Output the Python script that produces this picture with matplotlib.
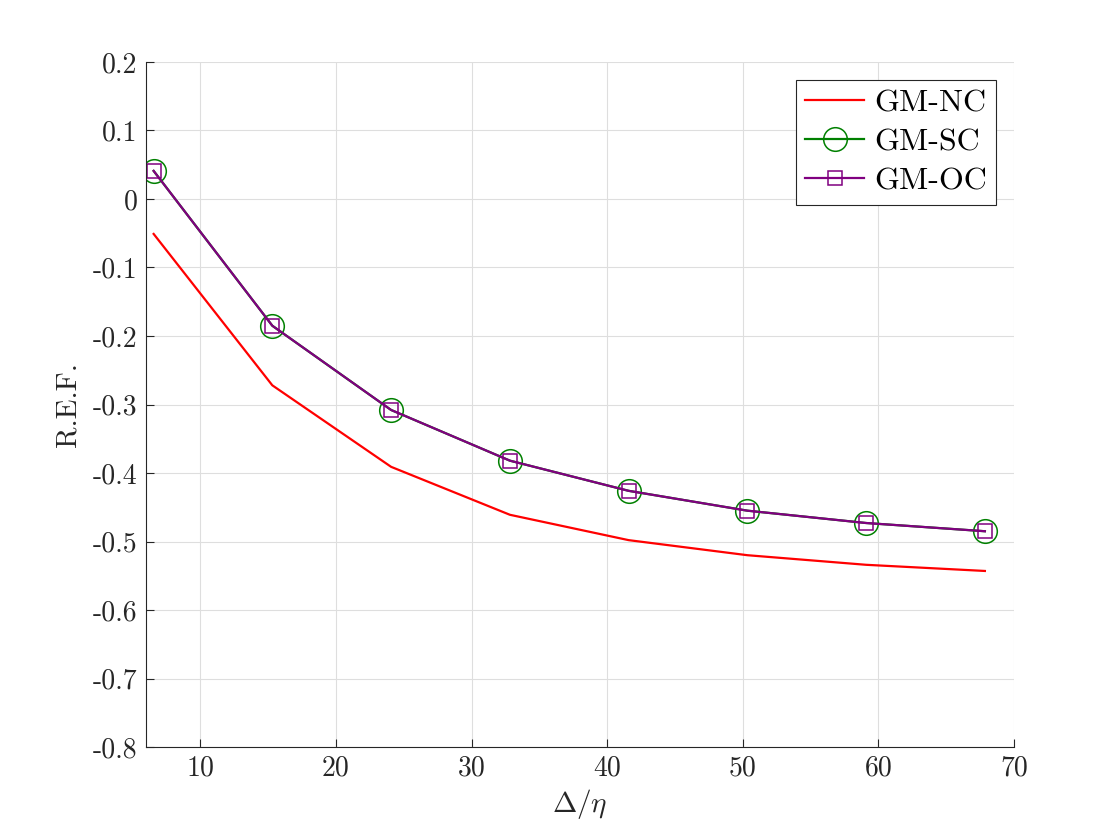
import matplotlib
matplotlib.use("Agg")
import matplotlib.pyplot as plt

plt.rcParams['font.family'] = 'serif'
plt.rcParams['font.serif'] = ['cmr10']
plt.rcParams['mathtext.fontset'] = 'cm'
plt.rcParams['axes.unicode_minus'] = False

# data
x = [6.56, 15.31, 24.07, 32.83, 41.58, 50.34, 59.09, 67.85]
gm_nc = [-0.051, -0.272, -0.391, -0.461, -0.498, -0.520, -0.534, -0.543]
gm_sc = [0.041, -0.185, -0.308, -0.382, -0.426, -0.455, -0.473, -0.485]
gm_oc = [0.041, -0.185, -0.308, -0.382, -0.426, -0.455, -0.473, -0.485]

xticks = [10, 20, 30, 40, 50, 60, 70]
yticks = [0.2, 0.1, 0, -0.1, -0.2, -0.3, -0.4, -0.5, -0.6, -0.7, -0.8]
ytick_labels = ['0.2', '0.1', '0', '-0.1', '-0.2', '-0.3', '-0.4', '-0.5', '-0.6', '-0.7', '-0.8']

txt = '#262626'

fig = plt.figure(figsize=(11.2, 8.4), dpi=100)
ax = fig.add_axes([0.1304, 0.1107, 0.775, 0.8155])

ax.plot(x, gm_nc, color='red', lw=1.6, label='GM-NC')
ax.plot(x, gm_sc, color='green', lw=1.6, marker='o', markersize=17,
        markerfacecolor='none', markeredgewidth=1.1, label='GM-SC')
ax.plot(x, gm_oc, color='purple', lw=1.6, marker='s', markersize=9.5,
        markerfacecolor='none', markeredgewidth=1.1, label='GM-OC')

ax.set_xlim(6, 70)
ax.set_ylim(-0.8, 0.2)
ax.set_xticks(xticks)
ax.set_xticklabels([str(t) for t in xticks])
ax.set_yticks(yticks)
ax.set_yticklabels(ytick_labels)

ax.grid(True, color='#dedede', lw=0.8)
ax.set_axisbelow(True)
ax.spines['top'].set_visible(False)
ax.spines['right'].set_visible(False)
for s in ['left', 'bottom']:
    ax.spines[s].set_color(txt)
    ax.spines[s].set_linewidth(0.8)
ax.tick_params(direction='in', length=6, width=0.8, colors=txt,
               labelsize=20, labelcolor=txt, pad=6)

ax.set_xlabel(r'$\Delta/\eta$', fontsize=21, color=txt, labelpad=4)
ax.set_ylabel('R.E.F.', fontsize=21, color=txt, labelpad=8)

leg = ax.legend(loc='upper right', fontsize=23, frameon=True, fancybox=False,
                edgecolor='#262626', framealpha=1, borderpad=0.3,
                handlelength=1.85, handletextpad=0.3, labelspacing=0.33,
                borderaxespad=0.55)
leg.get_frame().set_linewidth(0.8)

fig.savefig('out.png', dpi=100)
